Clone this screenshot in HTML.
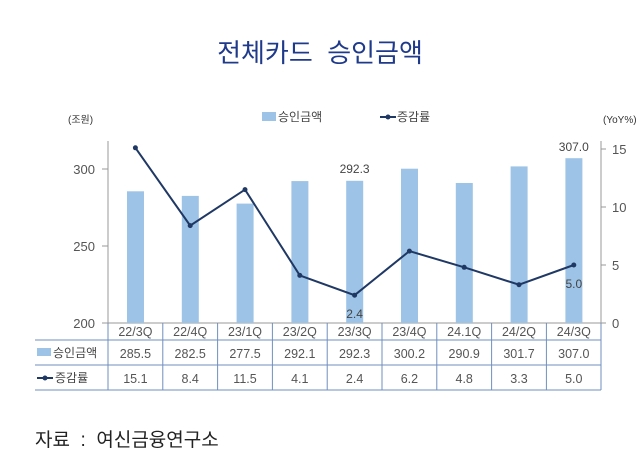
<!DOCTYPE html>
<html><head><meta charset="utf-8"><style>
body{margin:0;background:#fff;}
svg{display:block;font-family:"Liberation Sans","Noto Sans CJK KR",sans-serif;}
</style></head><body>
<svg width="640" height="453" viewBox="0 0 640 453">
<text x="320" y="62" text-anchor="middle" font-size="26" font-weight="normal" fill="#1f3a8a">전체카드&#160;&#160;승인금액</text>
<text x="68" y="123" font-size="10" fill="#333">(조원)</text>
<text x="603" y="123" font-size="10" fill="#333">(YoY%)</text>
<rect x="262" y="112" width="14" height="9" fill="#9dc3e6"/>
<text x="278" y="121" font-size="12" fill="#444">승인금액</text>
<line x1="380" y1="117" x2="396" y2="117" stroke="#1f3864" stroke-width="2"/>
<circle cx="388" cy="117" r="2.5" fill="#1f3864"/>
<text x="397" y="121" font-size="12" fill="#444">증감률</text>
<line x1="108" y1="141" x2="108" y2="323" stroke="#999"/>
<line x1="601" y1="141" x2="601" y2="323" stroke="#999"/>
<line x1="102" y1="323" x2="601" y2="323" stroke="#999"/>
<g stroke="#999"><line x1="102" y1="169" x2="108" y2="169"/><line x1="102" y1="246" x2="108" y2="246"/>
<line x1="601" y1="149" x2="606" y2="149"/><line x1="601" y1="207" x2="606" y2="207"/><line x1="601" y1="265" x2="606" y2="265"/><line x1="601" y1="323" x2="606" y2="323"/></g>
<g font-size="13" fill="#555" text-anchor="end">
<text x="95" y="174">300</text><text x="95" y="251">250</text><text x="95" y="328">200</text></g>
<g font-size="13" fill="#555">
<text x="612" y="154">15</text><text x="612" y="212">10</text><text x="612" y="270">5</text><text x="612" y="328">0</text></g>
<g fill="#9dc3e6">
<rect x="127" y="191.3" width="17" height="131.7"/>
<rect x="181.8" y="195.9" width="17" height="127.1"/>
<rect x="236.6" y="203.6" width="17" height="119.4"/>
<rect x="291.4" y="181.1" width="17" height="141.9"/>
<rect x="346.2" y="180.8" width="17" height="142.2"/>
<rect x="401" y="168.7" width="17" height="154.3"/>
<rect x="455.8" y="183" width="17" height="140"/>
<rect x="510.6" y="166.4" width="17" height="156.6"/>
<rect x="565.4" y="158.2" width="17" height="164.8"/>
</g>
<polyline fill="none" stroke="#1f3864" stroke-width="2" points="135.4,147.8 190.2,225.6 245,189.6 299.8,275.4 354.6,295.2 409.4,251.1 464.2,267.3 519,284.7 573.8,265"/>
<g fill="#1f3864">
<circle cx="135.4" cy="147.8" r="2.5"/><circle cx="190.2" cy="225.6" r="2.5"/><circle cx="245" cy="189.6" r="2.5"/><circle cx="299.8" cy="275.4" r="2.5"/><circle cx="354.6" cy="295.2" r="2.5"/><circle cx="409.4" cy="251.1" r="2.5"/><circle cx="464.2" cy="267.3" r="2.5"/><circle cx="519" cy="284.7" r="2.5"/><circle cx="573.8" cy="265" r="2.5"/></g>
<g font-size="12" fill="#444" text-anchor="middle">
<text x="354.6" y="173">292.3</text><text x="573.8" y="151">307.0</text>
<text x="354.6" y="318">2.4</text><text x="573.8" y="288">5.0</text></g>
<g stroke="#6f8fbf">
<line x1="35" y1="340" x2="601" y2="340"/><line x1="35" y1="365" x2="601" y2="365"/><line x1="35" y1="390" x2="601" y2="390"/>
<line x1="108" y1="323" x2="108" y2="390"/><line x1="162.8" y1="323" x2="162.8" y2="390"/><line x1="217.6" y1="323" x2="217.6" y2="390"/><line x1="272.4" y1="323" x2="272.4" y2="390"/><line x1="327.2" y1="323" x2="327.2" y2="390"/><line x1="382" y1="323" x2="382" y2="390"/><line x1="436.8" y1="323" x2="436.8" y2="390"/><line x1="491.6" y1="323" x2="491.6" y2="390"/><line x1="546.4" y1="323" x2="546.4" y2="390"/><line x1="601" y1="323" x2="601" y2="390"/>
</g>
<rect x="37" y="348" width="14" height="8" fill="#9dc3e6"/>
<text x="53" y="357" font-size="12" fill="#444">승인금액</text>
<line x1="37" y1="378" x2="53" y2="378" stroke="#1f3864" stroke-width="2"/><circle cx="45" cy="378" r="2.5" fill="#1f3864"/>
<text x="55" y="382" font-size="12" fill="#444">증감률</text>
<g font-size="12.5" fill="#555" text-anchor="middle">
<text x="135.4" y="336">22/3Q</text><text x="190.2" y="336">22/4Q</text><text x="245" y="336">23/1Q</text><text x="299.8" y="336">23/2Q</text><text x="354.6" y="336">23/3Q</text><text x="409.4" y="336">23/4Q</text><text x="464.2" y="336">24.1Q</text><text x="519" y="336">24/2Q</text><text x="573.8" y="336">24/3Q</text>
<text x="135.4" y="358">285.5</text><text x="190.2" y="358">282.5</text><text x="245" y="358">277.5</text><text x="299.8" y="358">292.1</text><text x="354.6" y="358">292.3</text><text x="409.4" y="358">300.2</text><text x="464.2" y="358">290.9</text><text x="519" y="358">301.7</text><text x="573.8" y="358">307.0</text>
<text x="135.4" y="383">15.1</text><text x="190.2" y="383">8.4</text><text x="245" y="383">11.5</text><text x="299.8" y="383">4.1</text><text x="354.6" y="383">2.4</text><text x="409.4" y="383">6.2</text><text x="464.2" y="383">4.8</text><text x="519" y="383">3.3</text><text x="573.8" y="383">5.0</text>
</g>
<text x="35" y="446" font-size="19" fill="#222">자료&#160;&#160;:&#160;&#160;여신금융연구소</text>
</svg>
</body></html>
